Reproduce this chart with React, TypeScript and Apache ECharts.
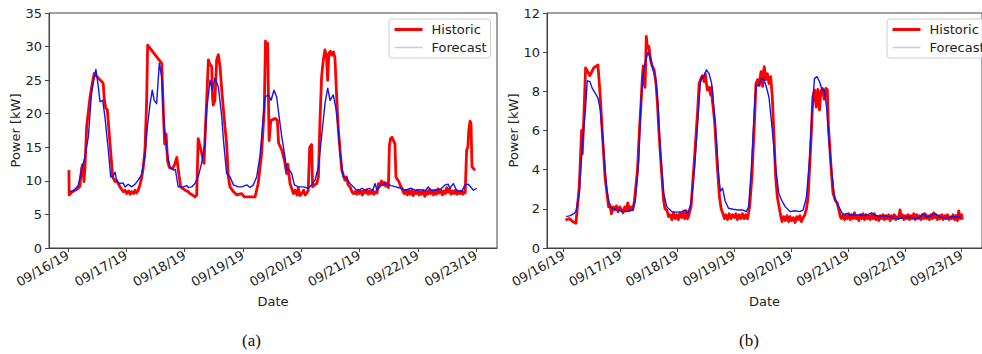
import React, { useEffect, useRef } from "react";
import * as echarts from "echarts";

// Hours since 09/16/19 00:00 and the power in kW, [hour, kW]
const historicA: [number, number][] = [
  [0.4, 11.6], [0.5, 7.9], [1.5, 8.3], [2.9, 8.6], [4.2, 8.9], [4.9, 9.2], [5.6, 11.8], [6.0, 12.4], [6.6, 9.9], [7.0, 12.0],
  [7.7, 18.1], [9.1, 22.5], [10.0, 24.5], [10.8, 26.0], [12.5, 25.3], [13.9, 24.8], [14.5, 24.5], [15.0, 22.0], [15.6, 20.8],
  [16.2, 20.6], [17.3, 15.6], [18.4, 10.6], [19.4, 9.9], [20.0, 10.1], [21.4, 9.1], [22.8, 8.4], [23.5, 8.6], [24.2, 8.1],
  [25.0, 8.5], [25.6, 8.0], [26.2, 8.4], [27.0, 8.1], [27.6, 8.6], [28.2, 8.2], [28.9, 8.6], [29.6, 9.4], [30.3, 10.4],
  [31.0, 12.0], [31.7, 14.6], [32.4, 22.0], [32.8, 30.2], [38.6, 27.5], [39.3, 20.0], [39.8, 15.5], [40.4, 17.0], [41.0, 13.0],
  [41.7, 12.0], [43.0, 11.8], [44.0, 12.5], [44.8, 13.5], [45.5, 11.4], [46.4, 9.1], [47.5, 8.8], [48.2, 8.6], [49.5, 8.4],
  [50.2, 8.1], [51.3, 7.9], [52.3, 7.6], [53.0, 7.9], [53.6, 16.3], [54.5, 15.0], [56.0, 12.6], [56.6, 18.0], [57.1, 22.0],
  [57.8, 28.0], [58.5, 27.3], [59.2, 27.0], [59.5, 22.5], [59.8, 21.3], [60.5, 22.0], [61.2, 28.0], [61.9, 28.8], [62.6, 27.0],
  [63.3, 23.5], [64.6, 18.1], [65.3, 15.6], [66.0, 10.6], [66.7, 9.1], [68.1, 8.4], [69.5, 7.9], [71.5, 8.1], [72.6, 7.6],
  [77.0, 7.6], [78.3, 9.6], [79.7, 14.1], [80.8, 20.6], [81.3, 30.8], [81.8, 29.0], [82.2, 30.5], [82.5, 23.0], [82.8, 16.0],
  [83.5, 19.0], [85.2, 19.3], [86.2, 19.0], [86.7, 15.6], [88.0, 14.6], [89.1, 13.1], [90.0, 11.1], [90.5, 12.5], [91.4, 9.6],
  [92.8, 8.1], [93.5, 8.6], [94.3, 7.9], [94.8, 8.9], [95.5, 7.8], [96.2, 8.1], [97.0, 8.6], [97.6, 7.9], [98.4, 8.2],
  [98.9, 8.6], [99.5, 15.0], [100.3, 15.4], [100.7, 9.1], [101.5, 9.4], [102.4, 9.6], [103.1, 10.6], [103.7, 18.6],
  [104.4, 25.5], [105.1, 28.0], [105.8, 29.5], [106.4, 28.5], [106.9, 25.0], [107.4, 29.0], [108.0, 29.3], [108.6, 28.7],
  [109.3, 29.2], [109.9, 28.3], [110.6, 22.5], [111.3, 17.6], [112.7, 11.6], [114.0, 10.1], [114.6, 10.6], [115.3, 9.4],
  [116.1, 9.1], [117.0, 8.3], [117.5, 8.1], [118.2, 8.4], [118.8, 8.0], [119.4, 8.6], [120.0, 8.1], [120.6, 8.5], [121.2, 7.9],
  [121.8, 8.6], [122.4, 8.2], [123.0, 8.7], [123.6, 8.0], [124.2, 8.5], [124.8, 8.1], [125.4, 8.6], [126.0, 8.0], [126.6, 8.4],
  [127.2, 8.2], [127.8, 9.6], [128.4, 9.3], [129.0, 10.0], [129.6, 9.4], [130.2, 9.8], [130.8, 9.2], [131.4, 9.7], [131.9, 9.0],
  [132.3, 15.2], [132.8, 16.3], [133.4, 16.5], [134.0, 16.0], [134.6, 15.5], [135.0, 10.6], [135.6, 10.2], [136.2, 9.9],
  [136.8, 9.3], [137.3, 9.0], [137.9, 8.4], [138.5, 8.1], [139.1, 8.6], [139.7, 7.9], [140.3, 8.5], [140.9, 8.0], [141.5, 8.6],
  [142.1, 7.8], [142.7, 8.4], [143.3, 8.1], [143.9, 8.6], [144.5, 7.9], [145.1, 8.4], [145.7, 8.0], [146.3, 8.6], [146.9, 7.7],
  [147.5, 8.5], [148.1, 8.0], [148.7, 8.7], [149.3, 8.1], [149.9, 8.5], [150.5, 7.9], [151.1, 8.6], [151.7, 8.0], [152.3, 8.8],
  [152.9, 8.2], [153.5, 8.6], [154.1, 7.9], [154.7, 8.5], [155.3, 8.1], [155.9, 9.0], [156.5, 8.3], [157.1, 8.8], [157.7, 8.0],
  [158.3, 8.5], [158.9, 8.1], [159.5, 8.6], [160.1, 8.0], [160.7, 8.4], [161.3, 8.1], [161.9, 8.5], [162.5, 8.0], [163.1, 8.4],
  [163.5, 8.2], [164.1, 14.6], [164.6, 15.0], [165.0, 17.5], [165.5, 18.9], [165.9, 18.5], [166.3, 12.1], [167.0, 11.8],
  [167.6, 11.6],
];

const forecastA: [number, number][] = [
  [0.8, 8.4], [2.5, 8.6], [4.2, 9.3], [5.6, 11.6], [7.0, 13.6], [8.4, 16.6], [9.7, 23.0], [10.6, 25.0], [11.5, 26.6],
  [12.5, 24.0], [13.2, 21.8], [14.3, 22.0], [15.2, 19.6], [16.6, 14.6], [17.6, 10.6], [18.6, 10.7], [19.4, 11.3], [20.1, 9.9],
  [21.4, 9.6], [22.7, 9.7], [23.5, 9.1], [24.8, 9.5], [26.2, 9.1], [27.6, 9.5], [28.9, 10.1], [30.3, 10.9], [31.7, 13.6],
  [32.7, 18.1], [33.8, 21.5], [34.7, 23.5], [35.5, 22.0], [36.5, 21.5], [37.6, 27.5], [38.6, 25.5], [39.5, 18.6], [40.6, 14.6],
  [42.0, 12.1], [43.4, 11.6], [44.2, 11.7], [45.4, 9.1], [47.5, 9.1], [48.9, 9.3], [49.6, 9.0], [50.9, 9.1], [52.3, 9.6],
  [53.6, 10.6], [55.0, 12.6], [56.4, 15.6], [57.1, 20.6], [58.5, 25.0], [59.4, 23.5], [60.5, 25.3], [61.9, 24.0], [63.3, 19.6],
  [64.0, 16.1], [65.3, 11.1], [66.7, 10.6], [68.1, 9.4], [70.1, 9.1], [71.5, 9.1], [73.6, 9.4], [75.0, 9.0], [76.3, 9.4],
  [77.7, 10.6], [79.0, 13.6], [80.0, 17.6], [81.1, 22.5], [82.5, 22.8], [83.6, 22.0], [84.8, 23.5], [85.9, 22.5], [86.9, 19.6],
  [88.0, 16.6], [89.1, 14.1], [90.0, 11.6], [91.0, 11.7], [92.1, 11.1], [93.2, 9.4], [94.8, 9.1], [96.9, 9.1], [98.9, 8.9],
  [100.3, 9.4], [101.7, 10.1], [103.1, 12.1], [104.4, 16.6], [105.8, 21.5], [106.9, 23.8], [107.9, 22.0], [109.2, 22.8],
  [110.2, 21.0], [111.3, 17.6], [112.0, 14.1], [113.3, 10.6], [114.7, 10.4], [116.1, 9.6], [117.5, 9.1], [118.5, 8.7],
  [119.8, 8.6], [121.0, 8.9], [122.5, 8.6], [124.0, 8.9], [125.5, 8.6], [126.4, 9.6], [127.2, 8.6], [129.1, 9.4], [131.2, 9.6],
  [133.0, 9.3], [135.0, 9.1], [137.0, 8.9], [139.0, 8.6], [141.0, 8.9], [143.0, 8.6], [145.0, 8.7], [147.0, 8.5], [148.3, 9.1],
  [149.5, 8.6], [151.5, 8.6], [153.5, 8.8], [155.2, 9.4], [156.5, 9.5], [157.2, 8.9], [158.6, 9.6], [160.0, 8.6], [162.1, 8.4],
  [163.4, 9.4], [164.8, 9.5], [166.9, 8.6], [168.3, 8.9],
];

const historicB: [number, number][] = [
  [0.8, 1.43], [2.5, 1.5], [3.8, 1.35], [5.2, 1.26], [6.6, 3.1], [7.6, 6.0], [7.9, 4.8], [8.4, 6.2], [9.3, 9.2], [11.1, 8.8],
  [12.7, 9.2], [14.5, 9.35], [15.5, 7.7], [16.2, 6.2], [17.5, 3.6], [18.5, 2.6], [19.0, 2.1], [19.6, 2.2], [20.2, 1.75],
  [20.9, 2.1], [21.6, 1.95], [22.3, 2.15], [23.0, 1.85], [23.7, 2.1], [24.4, 1.95], [25.1, 1.8], [25.8, 2.1], [26.5, 1.9],
  [27.1, 2.3], [27.8, 1.9], [28.5, 2.1], [29.2, 1.95], [29.9, 2.4], [31.2, 3.97], [32.0, 6.0], [32.6, 7.2], [33.2, 8.6],
  [33.6, 9.3], [34.0, 8.7], [34.4, 8.2], [34.9, 10.8], [35.4, 10.2], [36.0, 10.3], [36.7, 9.6], [37.4, 9.3], [38.2, 9.1],
  [39.0, 8.4], [39.6, 7.4], [40.2, 6.0], [41.3, 3.97], [42.2, 2.45], [42.8, 2.0], [43.6, 1.94], [44.3, 1.6], [45.0, 1.7],
  [45.7, 1.45], [46.4, 1.8], [47.1, 1.5], [47.7, 1.7], [48.4, 1.45], [49.1, 1.8], [49.8, 1.55], [50.5, 1.85], [51.1, 1.5],
  [51.8, 1.9], [52.3, 1.5], [52.7, 1.6], [53.3, 1.9], [53.8, 2.1], [55.2, 4.5], [56.6, 7.05], [57.2, 8.4], [58.0, 8.65],
  [58.6, 8.8], [59.3, 8.5], [59.8, 8.9], [60.3, 8.4], [60.7, 8.07], [61.4, 8.2], [62.1, 7.8], [62.5, 8.2], [62.8, 7.55],
  [63.8, 6.4], [64.8, 4.3], [65.8, 2.6], [66.5, 2.0], [67.2, 1.77], [67.9, 1.5], [68.5, 1.7], [69.2, 1.45], [69.9, 1.75],
  [70.6, 1.5], [71.3, 1.7], [72.0, 1.55], [72.7, 1.75], [73.4, 1.45], [74.1, 1.7], [74.8, 1.5], [75.5, 1.75], [76.2, 1.5],
  [76.9, 1.7], [77.6, 1.5], [78.1, 1.8], [78.5, 2.1], [79.5, 3.64], [80.6, 6.55], [81.2, 8.4], [81.9, 8.6], [82.6, 8.3],
  [83.3, 9.0], [84.0, 8.25], [84.5, 9.1], [84.7, 9.26], [85.3, 8.6], [86.0, 8.9], [86.7, 8.4], [87.4, 8.75], [88.1, 7.7],
  [88.8, 5.7], [89.5, 3.64], [90.2, 2.6], [91.2, 1.94], [91.8, 1.55], [92.2, 1.35], [92.9, 1.6], [93.6, 1.4], [94.3, 1.65],
  [95.0, 1.35], [95.6, 1.6], [96.3, 1.4], [97.0, 1.55], [97.7, 1.3], [98.4, 1.6], [99.1, 1.45], [99.7, 1.65], [100.4, 1.35],
  [101.1, 1.55], [101.8, 1.68], [102.5, 2.0], [103.2, 2.6], [104.5, 5.7], [105.2, 7.7], [105.9, 8.07], [106.6, 7.2],
  [107.3, 8.1], [108.0, 7.05], [108.6, 8.0], [109.3, 8.15], [110.0, 7.6], [110.7, 8.15], [111.3, 8.1], [111.8, 6.2],
  [112.8, 4.3], [113.7, 2.8], [114.8, 2.4], [115.5, 2.3], [116.2, 1.94], [116.8, 1.6], [117.3, 1.5], [118.0, 1.7],
  [118.6, 1.45], [119.2, 1.65], [119.8, 1.5], [120.4, 1.75], [121.0, 1.45], [121.6, 1.7], [122.2, 1.5], [122.8, 1.8],
  [123.4, 1.5], [124.0, 1.65], [124.6, 1.4], [125.2, 1.7], [125.8, 1.5], [126.4, 1.75], [127.0, 1.45], [127.6, 1.7],
  [128.2, 1.5], [128.8, 1.65], [129.4, 1.45], [130.0, 1.7], [130.6, 1.5], [131.2, 1.75], [131.8, 1.45], [132.4, 1.6],
  [133.0, 1.4], [133.6, 1.65], [134.2, 1.5], [134.8, 1.7], [135.4, 1.45], [136.0, 1.65], [136.6, 1.5], [137.2, 1.7],
  [137.8, 1.4], [138.4, 1.65], [139.0, 1.5], [139.6, 1.7], [140.2, 1.45], [140.8, 1.6], [141.4, 1.5], [142.0, 1.95],
  [142.4, 1.55], [143.0, 1.7], [143.6, 1.45], [144.2, 1.65], [144.8, 1.5], [145.4, 1.7], [146.0, 1.45], [146.6, 1.65],
  [147.2, 1.5], [147.8, 1.75], [148.4, 1.45], [149.0, 1.7], [149.6, 1.5], [150.2, 1.65], [150.8, 1.45], [151.4, 1.7],
  [152.0, 1.5], [152.6, 1.75], [153.2, 1.5], [153.8, 1.65], [154.4, 1.45], [155.0, 1.7], [155.6, 1.5], [156.2, 1.8],
  [156.6, 1.55], [157.2, 1.7], [157.8, 1.45], [158.4, 1.65], [159.0, 1.5], [159.6, 1.7], [160.2, 1.45], [160.8, 1.65],
  [161.4, 1.5], [162.0, 1.7], [162.6, 1.45], [163.2, 1.6], [163.8, 1.5], [164.4, 1.7], [165.0, 1.45], [165.6, 1.65],
  [166.2, 1.4], [166.8, 1.9], [167.4, 1.5], [168.0, 1.7], [168.3, 1.45],
];

const forecastB: [number, number][] = [
  [1.1, 1.6], [2.8, 1.65], [4.5, 1.77], [5.2, 1.86], [6.6, 2.8], [8.0, 5.35], [9.3, 7.2], [10.0, 8.55], [11.1, 8.5],
  [12.1, 8.15], [13.4, 7.9], [14.5, 7.65], [15.5, 7.05], [16.9, 5.0], [18.2, 2.96], [19.6, 2.1], [21.0, 2.0], [23.0, 1.94],
  [25.1, 1.86], [27.1, 1.88], [29.2, 1.94], [30.3, 2.45], [31.7, 4.5], [32.6, 7.4], [33.6, 8.9], [34.7, 9.6], [35.6, 10.0],
  [36.7, 9.7], [37.7, 9.1], [38.8, 8.7], [39.9, 7.2], [40.8, 5.0], [42.2, 2.8], [43.6, 2.1], [45.6, 1.86], [47.6, 1.83],
  [49.6, 1.83], [51.1, 1.94], [52.4, 1.75], [53.8, 2.3], [55.2, 3.97], [56.6, 6.4], [57.7, 8.4], [58.3, 8.75], [59.0, 8.7],
  [59.5, 8.85], [60.3, 9.1], [61.4, 8.9], [62.5, 8.4], [63.4, 7.2], [64.4, 5.7], [65.5, 3.64], [66.2, 2.9], [67.1, 3.05],
  [68.2, 2.4], [69.6, 2.03], [71.6, 1.98], [73.7, 1.94], [75.7, 1.94], [77.1, 1.86], [78.1, 2.1], [79.2, 3.97], [80.3, 6.55],
  [81.2, 8.3], [82.3, 8.3], [83.3, 8.6], [84.3, 8.65], [85.4, 8.3], [86.7, 7.7], [88.1, 6.0], [89.5, 4.15], [90.8, 2.8],
  [92.2, 2.4], [93.6, 2.1], [95.6, 1.86], [97.6, 1.9], [99.7, 1.86], [101.1, 1.94], [102.5, 2.6], [103.8, 4.5], [104.9, 7.05],
  [105.9, 8.65], [106.9, 8.75], [108.0, 8.5], [109.1, 8.07], [110.0, 8.1], [111.0, 7.2], [112.1, 5.35], [113.2, 3.8],
  [114.5, 2.5], [116.2, 2.1], [117.6, 1.77], [118.5, 1.7], [119.6, 1.77], [121.0, 1.68], [122.5, 1.7], [124.0, 1.68],
  [125.5, 1.7], [127.0, 1.66], [128.5, 1.7], [129.9, 1.8], [131.5, 1.68], [133.5, 1.62], [135.5, 1.65], [137.5, 1.6],
  [140.2, 1.5], [142.5, 1.52], [144.5, 1.58], [146.5, 1.55], [148.5, 1.5], [150.5, 1.56], [151.8, 1.77], [153.0, 1.6],
  [154.5, 1.62], [156.6, 1.77], [158.5, 1.6], [161.4, 1.5], [164.0, 1.6], [167.6, 1.58],
];

const dateLabels = ["09/16/19", "09/17/19", "09/18/19", "09/19/19", "09/20/19", "09/21/19", "09/22/19", "09/23/19"];
const dayTicks = dateLabels.map((_, i) => i * 24);
const powerTicksA = { min: 0, max: 35, step: 5 };
const powerTicksB = { min: 0, max: 12, step: 2 };
const captions = ["(a)", "(b)"];

const FONT = "DejaVu Sans";
const INK = "#222";
const FRAME = "#444";
const RED = "#ff0000";
const BLUE = "#1515e8";
const BLUE_KEY = "#c8c8ff";

function xAxisFor(gridIndex: number, min: number, max: number) {
  return {
    type: "value",
    gridIndex,
    min,
    max,
    name: "Date",
    nameLocation: "middle",
    nameGap: 47,
    nameTextStyle: { fontFamily: FONT, fontSize: 13, color: INK },
    axisLine: { show: true, onZero: false, lineStyle: { color: FRAME, width: 1 } },
    axisTick: { show: true, length: 4, customValues: dayTicks, lineStyle: { color: FRAME } },
    axisLabel: {
      customValues: dayTicks,
      rotate: 30,
      margin: 6,
      fontFamily: FONT,
      fontSize: 13,
      color: INK,
      formatter: (v: number) => dateLabels[Math.round(v / 24)] ?? "",
    },
    splitLine: { show: false },
  };
}

function yAxisFor(gridIndex: number, t: { min: number; max: number; step: number }) {
  return {
    type: "value",
    gridIndex,
    min: t.min,
    max: t.max,
    interval: t.step,
    name: "Power [kW]",
    nameLocation: "middle",
    nameGap: 25,
    nameTextStyle: { fontFamily: FONT, fontSize: 13, color: INK },
    axisLine: { show: true, onZero: false, lineStyle: { color: FRAME, width: 1 } },
    axisTick: { show: true, length: 4, lineStyle: { color: FRAME } },
    axisLabel: { margin: 7, fontFamily: FONT, fontSize: 13, color: INK },
    splitLine: { show: false },
  };
}

// Legend keys are plain line segments: the marker part of the key is hidden
function legendAt(left: number) {
  return {
    left,
    top: 19,
    orient: "vertical",
    padding: 4,
    itemGap: 5,
    itemWidth: 28,
    itemHeight: 14,
    borderColor: "#cccccc",
    borderWidth: 1,
    borderRadius: 3,
    backgroundColor: "rgba(255,255,255,0.85)",
    textStyle: { fontFamily: FONT, fontSize: 13, color: INK, padding: [0, 2, 0, 4] },
    data: [
      { name: "Historic", itemStyle: { opacity: 0 }, lineStyle: { color: RED, width: 3 } },
      { name: "Forecast", itemStyle: { opacity: 0 }, lineStyle: { color: BLUE_KEY, width: 1.5 } },
    ],
  };
}

function lineSeries(name: string, data: [number, number][], idx: number, color: string, width: number) {
  return {
    type: "line",
    name,
    xAxisIndex: idx,
    yAxisIndex: idx,
    data,
    symbol: "none",
    showSymbol: false,
    clip: true,
    lineStyle: { color, width, join: "round" },
    itemStyle: { color },
    emphasis: { disabled: true },
  };
}

export default function App() {
  const ref = useRef<HTMLDivElement>(null);

  useEffect(() => {
    if (!ref.current) return;
    const chart = echarts.init(ref.current, null, { renderer: "svg" });
    chart.setOption({
      animation: false,
      textStyle: { fontFamily: FONT },
      grid: [
        { left: 49, right: 485, top: 13, bottom: 106, show: true, borderColor: FRAME, borderWidth: 1 },
        { left: 547, right: -12, top: 13, bottom: 106, show: true, borderColor: FRAME, borderWidth: 1 },
      ],
      xAxis: [xAxisFor(0, -7.8, 176.6), xAxisFor(1, -7.0, 176.6)],
      yAxis: [yAxisFor(0, powerTicksA), yAxisFor(1, powerTicksB)],
      legend: [legendAt(389), legendAt(887)],
      series: [
        lineSeries("Historic", historicA, 0, RED, 2.8),
        lineSeries("Forecast", forecastA, 0, BLUE, 1.4),
        lineSeries("Historic", historicB, 1, RED, 2.8),
        lineSeries("Forecast", forecastB, 1, BLUE, 1.4),
      ],
      graphic: [
        { type: "text", left: 242, top: 332, style: { text: captions[0], font: '17px "Liberation Serif"', fill: "#111" } },
        { type: "text", left: 739, top: 332, style: { text: captions[1], font: '17px "Liberation Serif"', fill: "#111" } },
      ],
    });
    return () => chart.dispose();
  }, []);

  return (
    <div
      ref={ref}
      style={{ position: "fixed", left: 0, top: 0, width: 982, height: 354, background: "#fff" }}
    />
  );
}
